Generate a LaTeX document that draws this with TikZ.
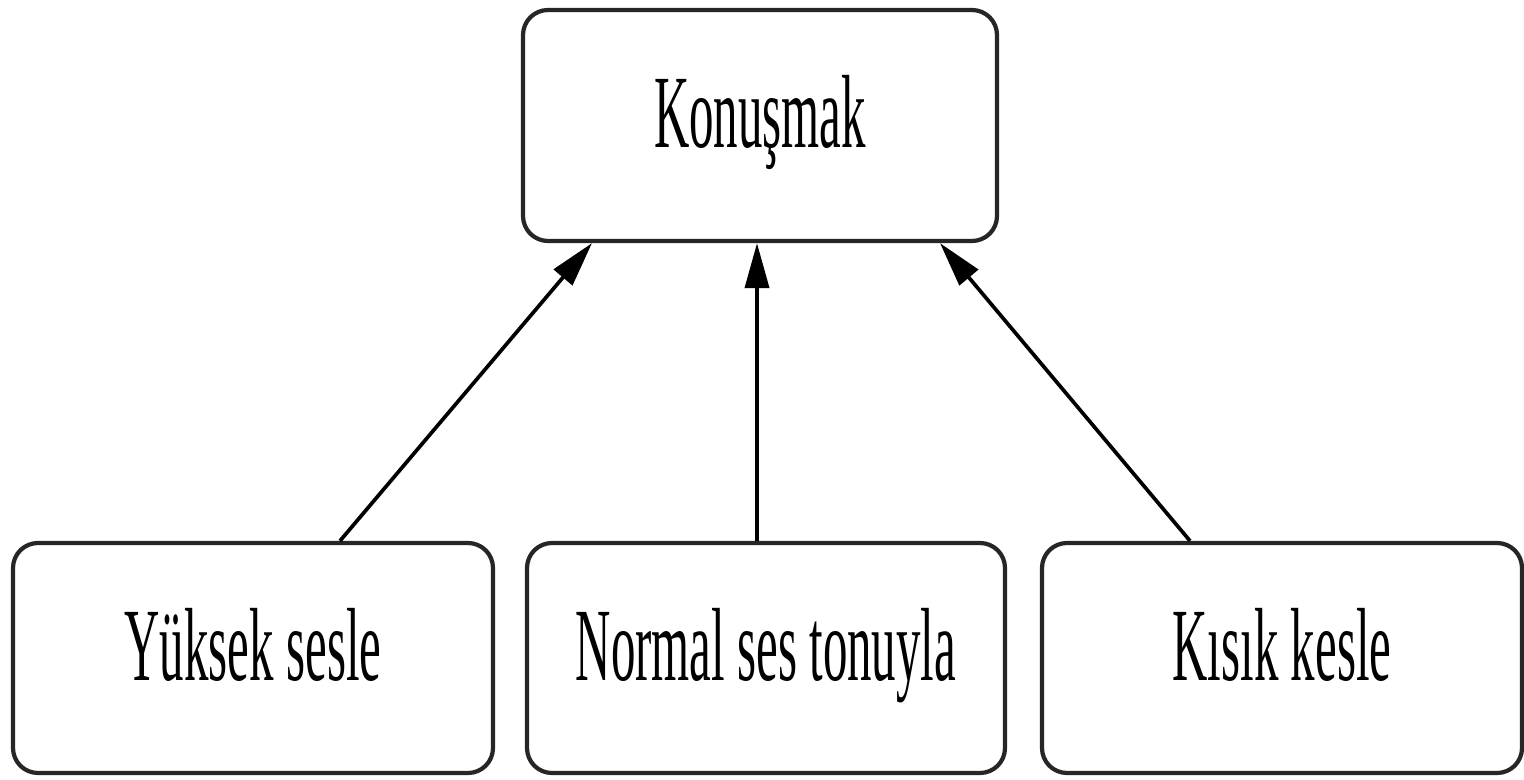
\documentclass[tikz,border=0pt]{standalone}
\usepackage{fontspec}
\setmainfont{Liberation Serif}
\usetikzlibrary{calc,arrows.meta}
\tikzset{
  box/.style={draw=black!85, line width=1.2pt, rounded corners=0.25cm, fill=white,
    minimum height=2.3cm, text height=0.69cm, text depth=0.25cm, inner sep=0pt,
    font=\fontsize{29.6}{32}\selectfont},
  conn/.style={line width=1.05pt, -{Triangle[length=0.45cm,width=0.24cm]}}
}
\newcommand{\narrow}[1]{\scalebox{0.47}[1]{#1}}
\begin{document}
\begin{tikzpicture}
\useasboundingbox (0,0) rectangle (15.24,7.79);
\node[box, minimum width=4.74cm, minimum height=2.31cm] (kon) at (7.60,6.535) {\narrow{Konuşmak}};
\node[box, minimum width=4.80cm] (yuk) at (2.53,1.21) {\narrow{Yüksek sesle}};
\node[box, minimum width=4.78cm] (nor) at (7.66,1.21) {\narrow{Normal ses tonuyla}};
\node[box, minimum width=4.80cm] (kis) at (12.82,1.21) {\narrow{Kısık kesle}};
\draw[conn] ($(yuk.north)+(0.87,0)$) -- ($(kon.south)+(-1.68,0)$);
\draw[conn] ($(nor.north)+(-0.09,0)$) -- ($(kon.south)+(-0.03,0)$);
\draw[conn] ($(kis.north)+(-0.92,0)$) -- ($(kon.south)+(1.80,0)$);
\end{tikzpicture}
\end{document}
